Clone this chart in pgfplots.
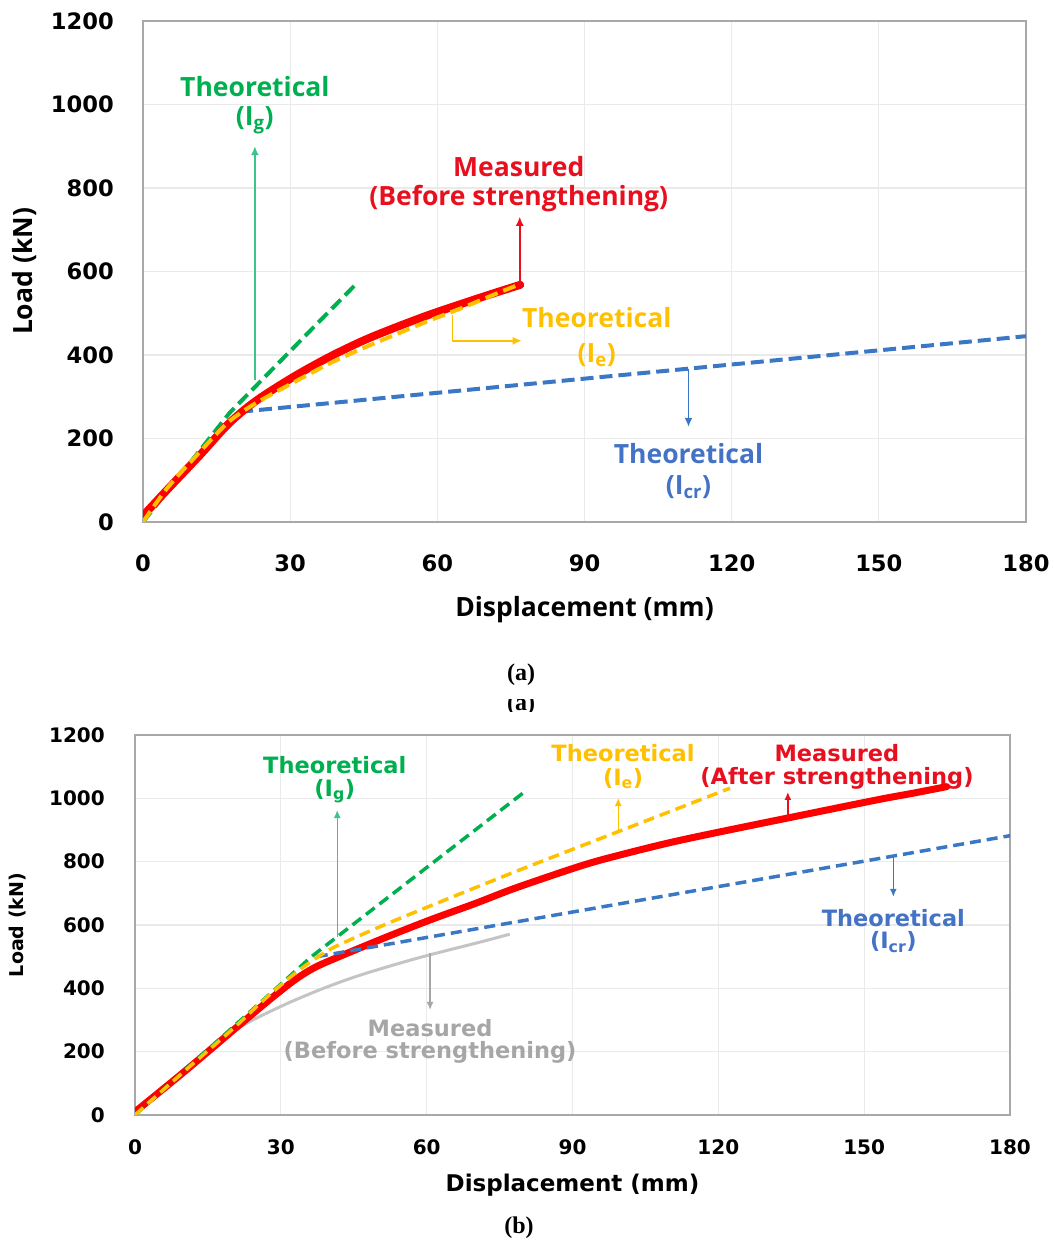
\documentclass[border=0pt]{standalone}
\usepackage{pgfplots}
\pgfplotsset{compat=1.18}
\usetikzlibrary{arrows.meta}
\usepackage{fontspec}
\setmainfont{DejaVu Sans}
\newfontfamily\osans{Open Sans}
\newfontfamily\lserif{Liberation Serif}
\definecolor{cgreen}{HTML}{00B050}
\definecolor{cgreenarr}{HTML}{3CC48A}
\definecolor{cyellow}{HTML}{FFC000}
\definecolor{cblue}{HTML}{3A78C6}
\definecolor{cbluetxt}{HTML}{4472C4}
\definecolor{cred}{HTML}{FF0000}
\definecolor{credtxt}{HTML}{E8101E}
\definecolor{cgray}{HTML}{C4C4C4}
\definecolor{cgraytxt}{HTML}{A6A6A6}
\definecolor{cgrid}{HTML}{EAEAEA}
\definecolor{caxis}{HTML}{A8A8A8}
\pgfplotsset{
  base/.style={
    scale only axis, xmin=0, xmax=180, ymin=0, ymax=1200,
    xtick={0,30,...,180}, ytick={0,200,...,1200},
    grid=major, major grid style={cgrid, line width=1.2pt},
    axis line style={caxis, line width=1.5pt},
    major tick length=0pt,
    /pgf/number format/assume math mode=true,
    /pgf/number format/1000 sep={},
  },
}
\newcommand{\fa}{\osans\bfseries\fontsize{26.5}{30}\selectfont}
\newcommand{\fb}{\bfseries\fontsize{22.5}{26}\selectfont}
\begin{document}
\begin{tikzpicture}[x=1pt,y=1pt]
\useasboundingbox (0,0) rectangle (1053,1246);
% ---------------- (a) ----------------
\begin{axis}[base, at={(143pt,724pt)}, anchor=south west, width=883pt, height=501pt,
  xticklabel style={font=\bfseries\fontsize{22.6}{26}\selectfont, anchor=center, yshift=-41pt},
  yticklabel style={font=\bfseries\fontsize{22.6}{26}\selectfont, anchor=east, inner sep=0pt, xshift=-29pt},
  xlabel={Displacement (mm)}, ylabel={Load (kN)},
  xlabel style={font=\fa, at={([yshift=-88pt]axis description cs:0.5,0)}, anchor=center},
  ylabel style={font=\fa, at={([xshift=-118pt]axis description cs:0,0.5)}, anchor=center},
]
\addplot[cgreen, line width=4pt, dash pattern=on 13pt off 6pt] coordinates {(0,0)(17.7,262)(43.6,572)};
\addplot[cblue, line width=4pt, dash pattern=on 13pt off 6pt] coordinates {(19.8,264)(180,445)};
\addplot[cred, line width=8pt, line join=round, line cap=round, smooth, tension=0.5] coordinates {
(0,15)(5,78)(11.6,160)(17,230)(21,272)(25,306)(31.3,352)(38.1,396)(45,435)(51.7,467)(58.5,497)(65.3,524)(71,546)(76.9,568)};
\addplot[cyellow, line width=4pt, dash pattern=on 13pt off 6pt, smooth, tension=0.5] coordinates {
(0,0)(5,82)(11.6,168)(17,235)(21,270)(25,298)(31.3,338)(38.1,380)(45,417)(51.7,450)(58.5,483)(65.3,514)(71,542)(76.9,570)};
% arrows
\draw[cgreenarr, line width=1.5pt, -{Latex[length=9pt,width=8pt]}] (axis cs:22.8,340) -- (axis cs:22.8,900);
\draw[credtxt, line width=1.5pt, -{Latex[length=9pt,width=8pt]}] (axis cs:76.8,568) -- (axis cs:76.8,731);
\draw[cyellow, line width=1.5pt, -{Latex[length=9pt,width=8pt]}] (axis cs:63.1,496) -- (axis cs:63.1,434) -- (axis cs:77.2,434);
\draw[cblue, line width=1.5pt, -{Latex[length=9pt,width=8pt]}] (axis cs:111.2,366) -- (axis cs:111.2,228);
% texts
\node[font=\fa, text=cgreen] at (axis cs:22.8,1044) {Theoretical};
\node[font=\fa, text=cgreen] at (axis cs:22.8,962) {(I\textsubscript{g})};
\node[font=\fa, text=credtxt] at (axis cs:76.6,851) {Measured};
\node[font=\fa, text=credtxt] at (axis cs:76.6,775) {(Before strengthening)};
\node[font=\fa, text=cyellow] at (axis cs:92.5,490) {Theoretical};
\node[font=\fa, text=cyellow] at (axis cs:92.5,400) {(I\textsubscript{e})};
\node[font=\fa, text=cbluetxt] at (axis cs:111.2,163) {Theoretical};
\node[font=\fa, text=cbluetxt] at (axis cs:111.2,83) {(I\textsubscript{cr})};
\end{axis}
\node[font=\lserif\bfseries\fontsize{24}{28}\selectfont] at (521,571) {(a)};
\begin{scope}
\clip (480,534) rectangle (560,546);
\node[font=\lserif\bfseries\fontsize{24}{28}\selectfont] at (521,541) {(a)};
\end{scope}
% ---------------- (b) ----------------
\begin{axis}[base, at={(135pt,131pt)}, anchor=south west, width=875pt, height=380pt,
  xticklabel style={font=\bfseries\fontsize{20}{24}\selectfont, anchor=center, yshift=-32pt},
  yticklabel style={font=\bfseries\fontsize{20}{24}\selectfont, anchor=east, inner sep=0pt, xshift=-30pt},
  xlabel={Displacement (mm)}, ylabel={Load (kN)},
  xlabel style={font=\bfseries\fontsize{23}{26}\selectfont, at={([yshift=-70pt]axis description cs:0.5,0)}, anchor=center},
  ylabel style={font=\bfseries\fontsize{19}{22}\selectfont, at={([xshift=-117pt]axis description cs:0,0.5)}, anchor=center},
]
\addplot[cgray, line width=3pt, line join=round, smooth, tension=0.5] coordinates {
(0,10)(5,78)(11.6,160)(17,230)(21,272)(25,306)(31.3,352)(38.1,396)(45,435)(51.7,467)(58.5,497)(65.3,524)(71,546)(77.1,571)};
\addplot[cred, line width=7pt, line join=round, line cap=round, smooth, tension=0.5] coordinates {
(0,10)(10,135)(20,265)(28,368)(33,428)(37,466)(42,500)(51.1,558)(60.7,616)(70,668)(78.5,718)(92,788)(100,822)(110,860)(120,893)(134,937)(152.6,995)(160,1016)(167,1037)};
\addplot[cgreen, line width=3.5pt, dash pattern=on 11pt off 6pt] coordinates {(0,0)(36.3,500)(80.6,1026)};
\addplot[cblue, line width=3.5pt, dash pattern=on 11pt off 6pt] coordinates {(37.4,500)(180,882)};
\addplot[cyellow, line width=3.5pt, dash pattern=on 11pt off 6pt, smooth, tension=0.5] coordinates {
(0,0)(10,136)(20,270)(26.4,362)(32,436)(36,482)(40,522)(44.2,553)(52,605)(60.7,660)(78.5,770)(99.1,893)(110,958)(122.4,1032)};
% arrows
\draw[cgreenarr, line width=1.3pt, -{Latex[length=8pt,width=7pt]}] (axis cs:41.6,563) -- (axis cs:41.6,963);
\draw[cyellow, line width=1.3pt, -{Latex[length=8pt,width=7pt]}] (axis cs:99.4,893) -- (axis cs:99.4,1001);
\draw[credtxt, line width=1.3pt, -{Latex[length=8pt,width=7pt]}] (axis cs:134.3,937) -- (axis cs:134.3,1020);
\draw[cblue, line width=1.3pt, -{Latex[length=8pt,width=7pt]}] (axis cs:156,818) -- (axis cs:156,689);
\draw[cgraytxt, line width=1.3pt, -{Latex[length=8pt,width=7pt]}] (axis cs:60.7,511) -- (axis cs:60.7,332);
% texts
\node[font=\fb, text=cgreen] at (axis cs:41.1,1105) {Theoretical};
\node[font=\fb, text=cgreen] at (axis cs:41.1,1023) {(I\textsubscript{g})};
\node[font=\fb, text=cyellow] at (axis cs:100.4,1143) {Theoretical};
\node[font=\fb, text=cyellow] at (axis cs:100.4,1063) {(I\textsubscript{e})};
\node[font=\fb, text=credtxt] at (axis cs:144.4,1143) {Measured};
\node[font=\fb, text=credtxt] at (axis cs:144.4,1063) {(After strengthening)};
\node[font=\fb, text=cbluetxt] at (axis cs:156,621) {Theoretical};
\node[font=\fb, text=cbluetxt] at (axis cs:156,546) {(I\textsubscript{cr})};
\node[font=\fb, text=cgraytxt] at (axis cs:60.7,275) {Measured};
\node[font=\fb, text=cgraytxt] at (axis cs:60.7,197) {(Before strengthening)};
\end{axis}
\node[font=\lserif\bfseries\fontsize{24}{28}\selectfont] at (519,18) {(b)};
\end{tikzpicture}
\end{document}
